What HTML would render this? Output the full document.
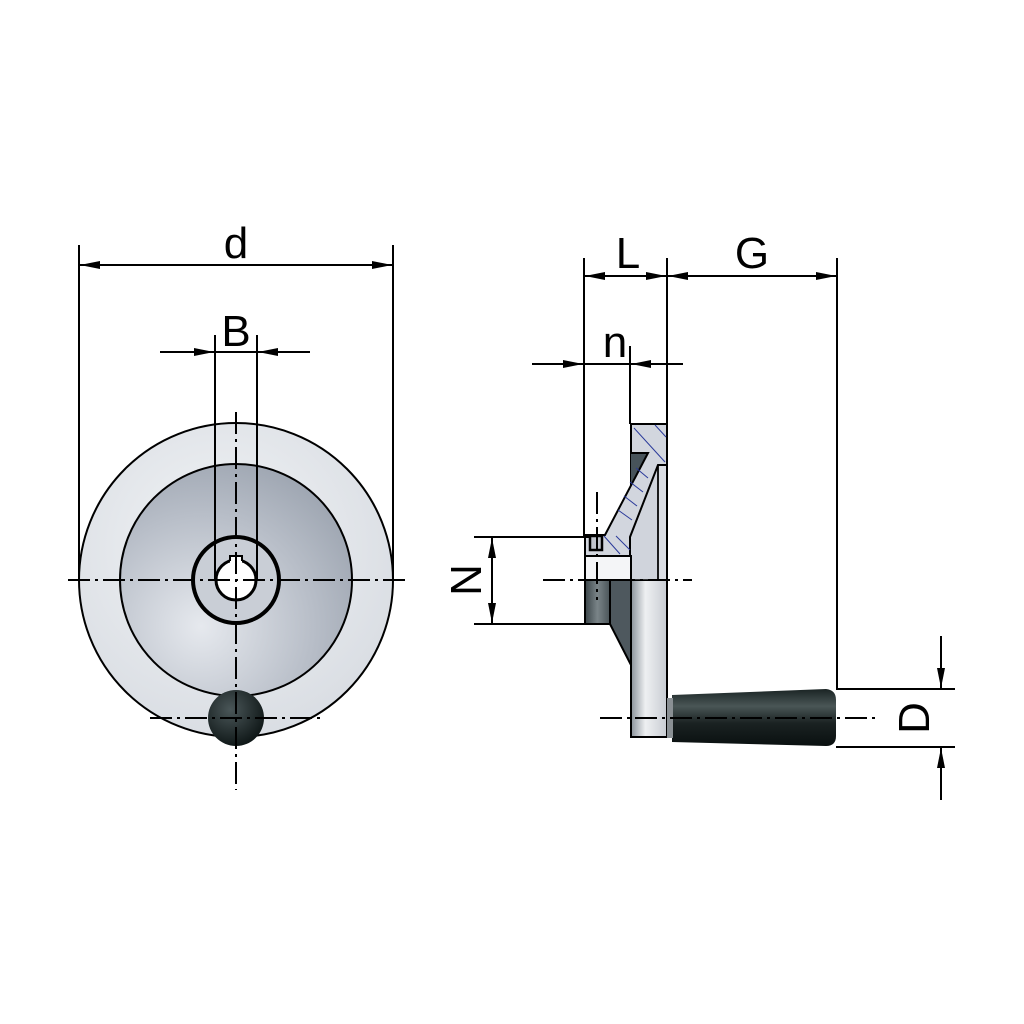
<!DOCTYPE html>
<html><head><meta charset="utf-8"><style>html,body{margin:0;padding:0;background:#fff}svg{display:block}</style></head>
<body>
<svg width="1024" height="1024" viewBox="0 0 1024 1024" xmlns="http://www.w3.org/2000/svg">
<defs>
<marker id="a" viewBox="0 0 20 8" refX="20" refY="4" markerWidth="20" markerHeight="8" orient="auto-start-reverse" markerUnits="userSpaceOnUse"><path d="M0,0 L20,4 L0,8 z" fill="#000"/></marker>
<radialGradient id="rim" cx="0.45" cy="0.4" r="0.65"><stop offset="0" stop-color="#f2f4f6"/><stop offset="1" stop-color="#d8dce2"/></radialGradient>
<radialGradient id="disc" cx="0.35" cy="0.7" r="0.8"><stop offset="0" stop-color="#e6e9ee"/><stop offset="0.6" stop-color="#b8bec8"/><stop offset="1" stop-color="#9aa2ae"/></radialGradient>
<radialGradient id="knob" cx="0.4" cy="0.35" r="0.7"><stop offset="0" stop-color="#4a5658"/><stop offset="1" stop-color="#0c1414"/></radialGradient>
<linearGradient id="handle" x1="0" y1="0" x2="0" y2="1"><stop offset="0" stop-color="#1a2424"/><stop offset="0.3" stop-color="#4a5656"/><stop offset="0.6" stop-color="#1a2222"/><stop offset="1" stop-color="#0a1010"/></linearGradient>
<linearGradient id="rimside" x1="0" y1="0" x2="1" y2="0"><stop offset="0" stop-color="#8a929a"/><stop offset="0.4" stop-color="#eef0f2"/><stop offset="1" stop-color="#c8ccd2"/></linearGradient>
<linearGradient id="dark" x1="0" y1="0" x2="1" y2="0"><stop offset="0" stop-color="#3a4448"/><stop offset="0.5" stop-color="#7a8488"/><stop offset="1" stop-color="#4a5458"/></linearGradient>
</defs>
<g stroke="#000" fill="none" stroke-width="2">
<!-- FRONT VIEW -->
<circle cx="236" cy="580" r="157" fill="url(#rim)"/>
<circle cx="236" cy="580" r="116" fill="url(#disc)"/>
<circle cx="236" cy="580" r="43" stroke-width="4" fill="#c9ced6"/>
<circle cx="236" cy="580" r="20" stroke-width="3" fill="#fff"/>
<rect x="230" y="557" width="12" height="7" fill="#fff" stroke="none"/>
<path d="M230,561 L230,556 L242,556 L242,561" stroke-width="2"/>
<circle cx="236" cy="718" r="28" fill="url(#knob)" stroke="none"/>
<!-- ext lines -->
<line x1="79" y1="245" x2="79" y2="580"/>
<line x1="393" y1="245" x2="393" y2="580"/>
<line x1="215" y1="335" x2="215" y2="580"/>
<line x1="257" y1="335" x2="257" y2="580"/>
<line x1="80" y1="265" x2="392" y2="265" marker-start="url(#a)" marker-end="url(#a)"/>
<line x1="160" y1="352" x2="214" y2="352" marker-end="url(#a)"/>
<line x1="310" y1="352" x2="258" y2="352" marker-end="url(#a)"/>
<line x1="214" y1="352" x2="258" y2="352"/>
<g stroke-width="2" stroke-dasharray="22,5,3,5">
<line x1="68" y1="580" x2="410" y2="580"/>
<line x1="236" y1="412" x2="236" y2="790"/>
<line x1="150" y1="718" x2="320" y2="718"/>
</g>
<!-- SIDE VIEW -->
<rect x="631" y="580" width="36" height="157" fill="url(#rimside)"/>
<rect x="631" y="424" width="36" height="156" fill="#dadde3"/>
<path d="M631,453 L648,453 L631,500 Z" fill="#47535a" stroke="none"/>
<path d="M658,465 L630,537 L630,580 L658,580 Z" fill="#d0d4dc" stroke-width="1.5"/>
<line x1="658" y1="465" x2="658" y2="580" stroke-width="1.5"/>
<path d="M631,424 L667,424 L667,465 L658,465 L630,537 L630,556 L585,556 L585,535 L605,535 L648,453 L631,453 Z" fill="#d2d6de"/>
<g stroke="#2a3a9a" stroke-width="1">
<line x1="634" y1="428" x2="665" y2="462"/><line x1="655" y1="425" x2="666" y2="437"/>
<line x1="636" y1="468" x2="648" y2="478"/><line x1="630" y1="482" x2="643" y2="492"/>
<line x1="624" y1="496" x2="637" y2="506"/><line x1="618" y1="510" x2="632" y2="520"/>
<line x1="604" y1="536" x2="620" y2="554"/><line x1="616" y1="536" x2="630" y2="550"/>
</g>
<rect x="585" y="556" width="46" height="24" fill="#f4f5f7"/>
<rect x="585" y="580" width="25" height="44" fill="url(#dark)"/>
<path d="M610,580 L631,580 L631,665 L610,624 Z" fill="#4e585e"/>
<rect x="590" y="536" width="12" height="14" stroke-width="2.5" fill="#c0c4cc"/>
<!-- handle -->
<path d="M672,695 L826,689 Q836,690 836,700 L836,736 Q836,746 826,746 L672,742 Z" fill="url(#handle)" stroke="none"/>
<rect x="667" y="698" width="6" height="40" fill="#8a9094" stroke="none"/>
<!-- side ext lines -->
<line x1="584" y1="258" x2="584" y2="538"/>
<line x1="667" y1="258" x2="667" y2="424"/>
<line x1="837" y1="258" x2="837" y2="690"/>
<line x1="630" y1="346" x2="630" y2="424"/>
<line x1="585" y1="276" x2="666" y2="276" marker-start="url(#a)" marker-end="url(#a)"/>
<line x1="668" y1="276" x2="836" y2="276" marker-start="url(#a)" marker-end="url(#a)"/>
<line x1="532" y1="364" x2="583" y2="364" marker-end="url(#a)"/>
<line x1="683" y1="364" x2="631" y2="364" marker-end="url(#a)"/>
<line x1="583" y1="364" x2="631" y2="364"/>
<line x1="474" y1="537" x2="590" y2="537"/>
<line x1="474" y1="624" x2="585" y2="624"/>
<line x1="492" y1="538" x2="492" y2="623" marker-start="url(#a)" marker-end="url(#a)"/>
<line x1="836" y1="689" x2="955" y2="689"/>
<line x1="836" y1="747" x2="955" y2="747"/>
<line x1="941" y1="636" x2="941" y2="688" marker-end="url(#a)"/>
<line x1="941" y1="800" x2="941" y2="748" marker-end="url(#a)"/>
<g stroke-width="2" stroke-dasharray="22,5,3,5">
<line x1="543" y1="580" x2="692" y2="580"/>
<line x1="597" y1="492" x2="597" y2="600"/>
<line x1="600" y1="718" x2="875" y2="718"/>
</g>
</g>
<g font-family="Liberation Sans, sans-serif" font-size="44" fill="#000" text-anchor="middle">
<text x="236" y="258">d</text>
<text x="236" y="346">B</text>
<text x="628" y="268">L</text>
<text x="752" y="268">G</text>
<text x="615" y="357">n</text>
<text transform="translate(481,580) rotate(-90)">N</text>
<text transform="translate(929,718) rotate(-90)">D</text>
</g>
</svg>
</body></html>
